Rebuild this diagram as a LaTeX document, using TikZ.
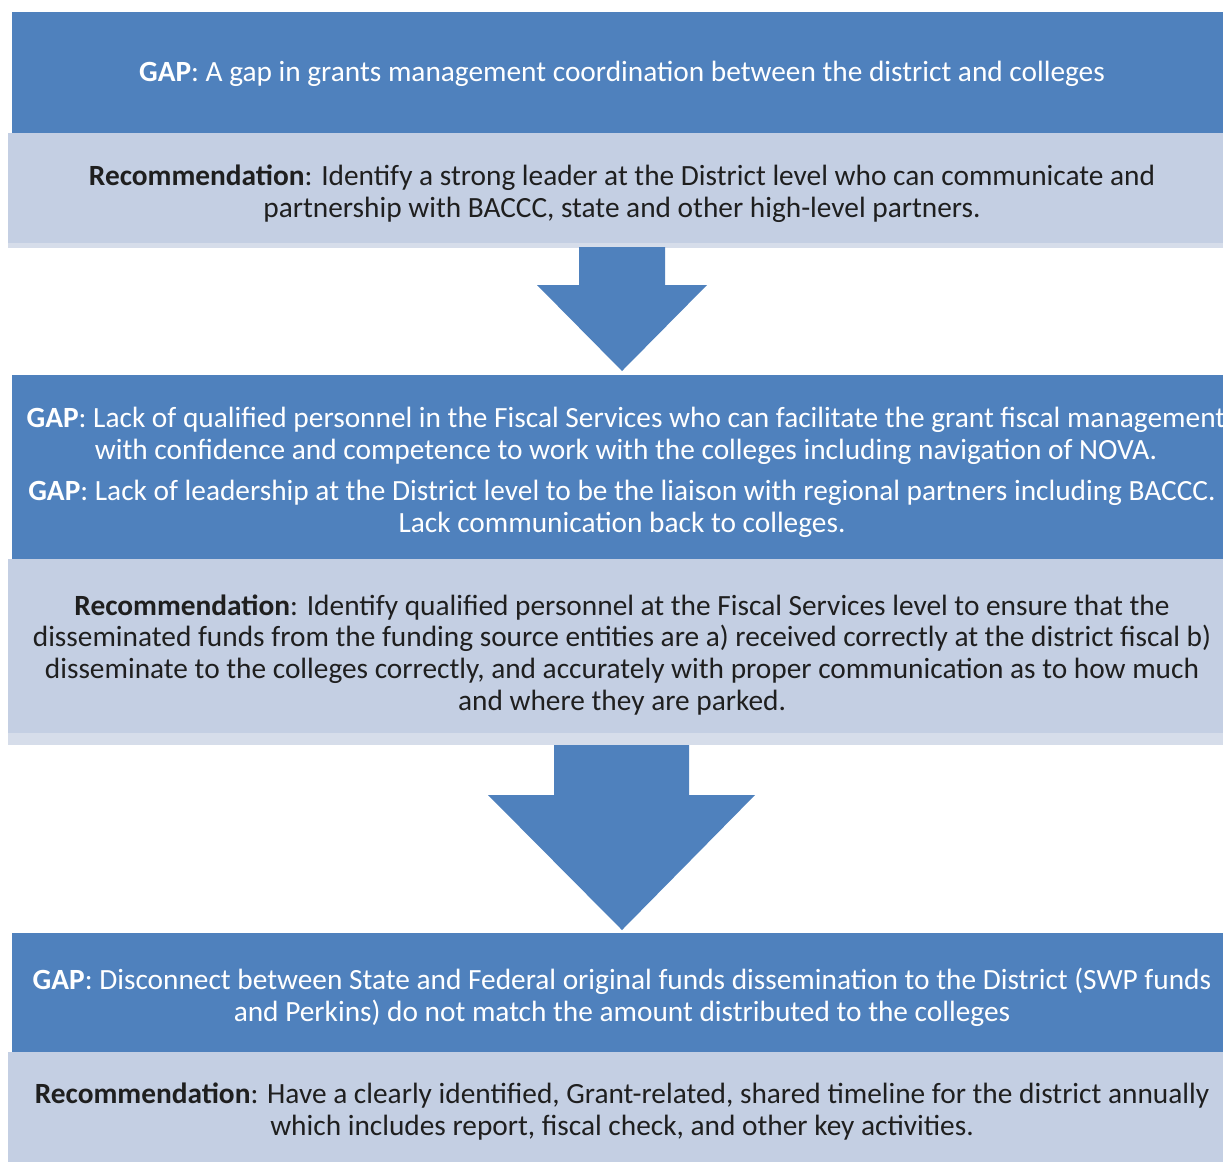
\documentclass[tikz,border=0pt]{standalone}
\usepackage{fontspec}
\setmainfont{Carlito}
\usetikzlibrary{calc}
\definecolor{gapblue}{HTML}{4F81BD}
\definecolor{recgrey}{HTML}{C4CFE3}
\definecolor{recshade}{HTML}{D6DDEA}
\tikzset{
  gapfill/.style={fill=gapblue},
  recfill/.style={fill=recgrey},
  recshadow/.style={fill=recshade},
  gaptext/.style={text=white, align=center, inner sep=0pt, font=\fontsize{16.7}{18.2}\selectfont},
  rectext/.style={text=black!88, align=center, inner sep=0pt, font=\fontsize{16.7}{18.2}\selectfont},
  blockarrow/.style={fill=gapblue}
}

\begin{document}
\begin{tikzpicture}[x=0.02cm, y=-0.02cm]
			%%%%% START %%%%%
			\clip (0, 0) rectangle (1223, 1161);
			
			% first gap and recommendation
			\fill[gapfill] (12, 12) rectangle (1240, 133);
			\fill[recshadow] (8, 133) rectangle (1240, 248);
			\fill[recfill] (8, 133) rectangle (1240, 243);
			\node[gaptext] (gap1) at (622, 74) {\textbf{GAP}: A gap in grants management coordination between the district and colleges};
			\node[rectext] (rec1) at (622, 194) {\textbf{Recommendation}: Identify a strong leader at the District level who can communicate and\\ partnership with BACCC, state and other high-level partners.};
			
			\fill[blockarrow] (579, 247) -- (665, 247) -- (665, 285) -- (707, 285) -- (622, 371) -- (537, 285) -- (579, 285) -- cycle;
			
			% second gap and recommendation
			\fill[gapfill] (12, 375) rectangle (1240, 559);
			\fill[recshadow] (8, 559) rectangle (1240, 745);
			\fill[recfill] (8, 559) rectangle (1240, 733);
			\node[gaptext] (gap2a) at (626, 436) {\textbf{GAP}: Lack of qualified personnel in the Fiscal Services who can facilitate the grant fiscal management\\ with confidence and competence to work with the colleges including navigation of NOVA.};
			\node[gaptext] (gap2b) at (622, 509) {\textbf{GAP}: Lack of leadership at the District level to be the liaison with regional partners including BACCC.\\ Lack communication back to colleges.};
			\node[rectext] (rec2) at (622, 655) {\textbf{Recommendation}: Identify qualified personnel at the Fiscal Services level to ensure that the\\ disseminated funds from the funding source entities are a) received correctly at the district fiscal b)\\ disseminate to the colleges correctly, and accurately with proper communication as to how much\\ and where they are parked.};
			
			\fill[blockarrow] (554, 745) -- (689, 745) -- (689, 795) -- (755, 795) -- (622, 930) -- (488, 795) -- (554, 795) -- cycle;
			
			% third gap and recommendation
			\fill[gapfill] (12, 933) rectangle (1240, 1052);
			\fill[recfill] (8, 1052) rectangle (1240, 1170);
			\node[gaptext] (gap3) at (622, 997) {\textbf{GAP}: Disconnect between State and Federal original funds dissemination to the District (SWP funds\\ and Perkins) do not match the amount distributed to the colleges};
			\node[rectext] (rec3) at (622, 1112) {\textbf{Recommendation}: Have a clearly identified, Grant-related, shared timeline for the district annually\\ which includes report, fiscal check, and other key activities.};
			
			%%%%% END %%%%%
\end{tikzpicture}
\end{document}
